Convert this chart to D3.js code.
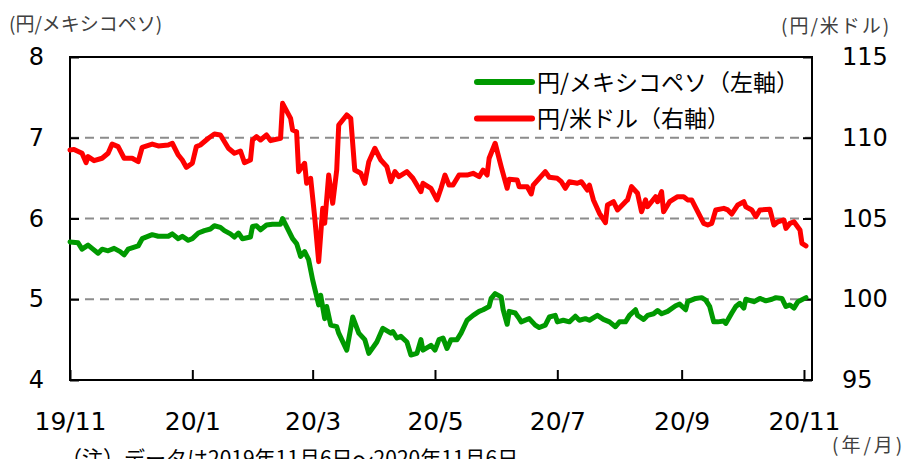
<!DOCTYPE html>
<html lang="ja">
<head>
<meta charset="UTF-8">
<title>円/メキシコペソ・円/米ドル</title>
<style>
  body { margin: 0; background: #fff; }
  svg { display: block; }
  .tick text { font-family: 'DejaVu Sans', sans-serif; fill: #000; }
  .jp { font-family: 'Noto Sans CJK JP', sans-serif; }
</style>
</head>
<body>
<div id="chart"></div>
<script src="https://d3js.org/d3.v7.min.js"></script>
<script>
// 円/米ドル (right axis)
const usdDates = [
  "2019-11-01","2019-11-03","2019-11-07","2019-11-09","2019-11-10","2019-11-13","2019-11-17","2019-11-20","2019-11-22","2019-11-25",
  "2019-11-28","2019-12-02","2019-12-05","2019-12-07","2019-12-12","2019-12-15","2019-12-20","2019-12-22","2019-12-25","2019-12-27",
  "2019-12-29","2020-01-01","2020-01-03","2020-01-05","2020-01-09","2020-01-12","2020-01-15","2020-01-19","2020-01-22","2020-01-25",
  "2020-01-27","2020-01-30","2020-01-31","2020-02-02","2020-02-04","2020-02-07","2020-02-09","2020-02-14","2020-02-15","2020-02-19",
  "2020-02-20","2020-02-22","2020-02-23","2020-02-26","2020-02-27","2020-02-29","2020-03-02","2020-03-04","2020-03-06","2020-03-07",
  "2020-03-09","2020-03-11","2020-03-13","2020-03-14","2020-03-18","2020-03-20","2020-03-22","2020-03-25","2020-03-27","2020-03-29",
  "2020-04-01","2020-04-04","2020-04-07","2020-04-09","2020-04-11","2020-04-13","2020-04-17","2020-04-20","2020-04-24","2020-04-25",
  "2020-04-29","2020-05-02","2020-05-04","2020-05-06","2020-05-08","2020-05-10","2020-05-13","2020-05-17","2020-05-20","2020-05-23",
  "2020-05-25","2020-05-27","2020-05-28","2020-05-31","2020-06-03","2020-06-06","2020-06-07","2020-06-11","2020-06-12","2020-06-16",
  "2020-06-18","2020-06-19","2020-06-22","2020-06-25","2020-06-27","2020-07-01","2020-07-03","2020-07-05","2020-07-07","2020-07-11",
  "2020-07-13","2020-07-16","2020-07-17","2020-07-19","2020-07-22","2020-07-25","2020-07-26","2020-07-29","2020-07-31","2020-08-04",
  "2020-08-05","2020-08-07","2020-08-10","2020-08-12","2020-08-14","2020-08-15","2020-08-19","2020-08-20","2020-08-22","2020-08-23",
  "2020-08-26","2020-08-30","2020-09-02","2020-09-04","2020-09-06","2020-09-09","2020-09-12","2020-09-14","2020-09-16","2020-09-18",
  "2020-09-22","2020-09-24","2020-09-26","2020-09-29","2020-10-02","2020-10-03","2020-10-06","2020-10-08","2020-10-10","2020-10-15",
  "2020-10-17","2020-10-19","2020-10-22","2020-10-23","2020-10-25","2020-10-27","2020-10-30","2020-10-31","2020-11-02"
];
const usdValues = [
  109.24,109.28,109.04,108.46,108.83,108.58,108.73,109.04,109.61,109.45,
  108.73,108.73,108.52,109.41,109.61,109.49,109.55,109.66,108.93,108.62,
  108.17,108.42,109.45,109.55,109.97,110.23,110.17,109.35,109.04,109.18,
  108.46,108.62,109.86,110.07,109.86,110.17,109.82,109.97,112.13,111.20,
  110.48,110.37,107.90,108.42,107.18,107.49,105.11,102.33,105.63,104.70,
  107.69,105.94,108.00,110.79,111.41,111.20,108.00,107.80,107.18,108.52,
  109.35,108.62,108.21,107.28,107.90,107.59,107.90,107.49,106.66,107.18,
  106.87,106.15,106.87,107.69,107.07,107.07,107.69,107.69,107.80,107.59,
  108.00,107.69,108.73,109.66,108.21,106.87,107.43,107.38,106.97,106.97,
  106.52,107.07,107.49,107.90,107.55,107.49,107.28,106.87,107.28,107.18,
  107.28,106.76,107.07,106.15,105.32,104.74,105.84,106.04,105.53,106.04,
  106.15,106.97,106.56,105.42,106.15,105.73,106.35,106.04,106.66,105.42,
  106.04,106.35,106.35,106.15,106.15,105.42,104.70,104.60,104.70,105.53,
  105.63,105.53,105.28,105.84,106.04,105.73,105.53,105.11,105.53,105.57,
  104.60,104.80,104.91,104.39,104.70,104.80,104.29,103.46,103.30
];

// 円/メキシコペソ (left axis)
const mxnDates = [
  "2019-11-01","2019-11-05","2019-11-07","2019-11-10","2019-11-12","2019-11-15","2019-11-17","2019-11-20","2019-11-23","2019-11-26",
  "2019-11-28","2019-11-30","2019-12-05","2019-12-07","2019-12-12","2019-12-15","2019-12-20","2019-12-22","2019-12-25","2019-12-27",
  "2019-12-30","2020-01-01","2020-01-04","2020-01-07","2020-01-10","2020-01-12","2020-01-15","2020-01-17","2020-01-20","2020-01-22",
  "2020-01-24","2020-01-26","2020-01-30","2020-01-31","2020-02-02","2020-02-04","2020-02-07","2020-02-10","2020-02-14","2020-02-15",
  "2020-02-17","2020-02-20","2020-02-22","2020-02-24","2020-02-26","2020-02-28","2020-03-01","2020-03-04","2020-03-05","2020-03-07",
  "2020-03-08","2020-03-10","2020-03-13","2020-03-14","2020-03-18","2020-03-21","2020-03-24","2020-03-27","2020-03-29","2020-04-02",
  "2020-04-05","2020-04-09","2020-04-10","2020-04-12","2020-04-14","2020-04-17","2020-04-19","2020-04-22","2020-04-24","2020-04-25",
  "2020-04-29","2020-05-01","2020-05-03","2020-05-05","2020-05-07","2020-05-09","2020-05-12","2020-05-14","2020-05-17","2020-05-20",
  "2020-05-23","2020-05-25","2020-05-28","2020-05-29","2020-05-31","2020-06-03","2020-06-04","2020-06-06","2020-06-07","2020-06-10",
  "2020-06-12","2020-06-13","2020-06-16","2020-06-17","2020-06-20","2020-06-22","2020-06-25","2020-06-27","2020-06-30","2020-07-01",
  "2020-07-04","2020-07-07","2020-07-10","2020-07-12","2020-07-15","2020-07-17","2020-07-21","2020-07-24","2020-07-27","2020-07-30",
  "2020-08-01","2020-08-04","2020-08-06","2020-08-09","2020-08-10","2020-08-13","2020-08-15","2020-08-18","2020-08-20","2020-08-22",
  "2020-08-25","2020-08-29","2020-08-31","2020-09-03","2020-09-04","2020-09-08","2020-09-11","2020-09-13","2020-09-15","2020-09-17",
  "2020-09-19","2020-09-22","2020-09-23","2020-09-26","2020-09-28","2020-09-30","2020-10-02","2020-10-03","2020-10-07","2020-10-10",
  "2020-10-13","2020-10-16","2020-10-18","2020-10-21","2020-10-23","2020-10-25","2020-10-27","2020-10-29","2020-11-02"
];
const mxnValues = [
  5.71,5.70,5.62,5.67,5.63,5.57,5.62,5.60,5.63,5.59,
  5.55,5.62,5.66,5.75,5.80,5.78,5.78,5.81,5.75,5.78,
  5.73,5.75,5.82,5.85,5.87,5.91,5.89,5.85,5.81,5.77,
  5.82,5.75,5.77,5.90,5.91,5.86,5.92,5.93,5.93,6.00,
  5.90,5.75,5.69,5.53,5.59,5.49,5.24,4.93,5.05,4.76,
  4.91,4.68,4.66,4.58,4.37,4.78,4.58,4.50,4.33,4.47,
  4.64,4.58,4.60,4.52,4.54,4.47,4.31,4.33,4.50,4.37,
  4.43,4.37,4.50,4.52,4.39,4.50,4.50,4.58,4.74,4.80,
  4.85,4.87,4.91,5.01,5.07,5.03,4.87,4.69,4.85,4.83,
  4.76,4.72,4.75,4.76,4.68,4.65,4.68,4.78,4.80,4.72,
  4.74,4.72,4.79,4.74,4.76,4.74,4.80,4.75,4.72,4.66,
  4.72,4.72,4.80,4.87,4.80,4.75,4.80,4.82,4.86,4.82,
  4.85,4.92,4.94,4.87,4.97,5.01,5.02,4.99,4.91,4.72,
  4.72,4.73,4.70,4.83,4.91,4.95,4.89,5.00,4.97,5.01,
  4.98,5.00,5.02,5.01,4.91,4.93,4.89,4.97,5.02
];

const leftTicks = [4, 5, 6, 7, 8];
const rightTicks = [95, 100, 105, 110, 115];
const gridValues = [5, 6, 7];
const xStart = "2019-11-01", xEnd = "2020-11-05";
const legendLabels = ["円/メキシコペソ（左軸）", "円/米ドル（右軸）"];
const colors = ["#009900", "#ff0000"];

const width = 907, height = 459;
const plot = { left: 70, right: 812, top: 57, bottom: 380 };
const parse = d3.timeParse("%Y-%m-%d");

const svg = d3.select("#chart").append("svg")
  .attr("width", width).attr("height", height);

const x = d3.scaleTime()
  .domain([parse(xStart), parse(xEnd)])
  .range([plot.left, plot.right]);
const yL = d3.scaleLinear().domain([4, 8]).range([plot.bottom, plot.top]);
const yR = d3.scaleLinear().domain([95, 115]).range([plot.bottom, plot.top]);

// dashed grid
svg.append("g").selectAll("line")
  .data(gridValues).enter().append("line")
  .attr("x1", plot.left).attr("x2", plot.right)
  .attr("y1", d => yL(d)).attr("y2", d => yL(d))
  .attr("stroke", "#8c8c8c").attr("stroke-width", 2)
  .attr("stroke-dasharray", "9,6");

// axes
const xAxis = svg.append("g")
  .attr("transform", `translate(0,${plot.bottom})`)
  .call(d3.axisBottom(x)
    .ticks(d3.timeMonth.every(2))
    .tickFormat(d3.timeFormat("%y/%-m"))
    .tickSizeInner(-10).tickSizeOuter(0).tickPadding(32));
xAxis.selectAll("text").style("font-size", "25px");

const leftAxis = svg.append("g")
  .attr("transform", `translate(${plot.left},0)`)
  .call(d3.axisLeft(yL).tickValues(leftTicks)
    .tickSizeInner(-9).tickSizeOuter(0).tickPadding(26).tickFormat(d3.format("d")));
leftAxis.selectAll("text").style("font-size", "24px");

const rightAxis = svg.append("g")
  .attr("transform", `translate(${plot.right},0)`)
  .call(d3.axisRight(yR).tickValues(rightTicks)
    .tickSizeInner(-9).tickSizeOuter(0).tickPadding(30).tickFormat(d3.format("d")));
rightAxis.selectAll("text").style("font-size", "24px");

svg.selectAll(".domain").remove();
svg.selectAll(".tick line").attr("stroke", "#000").attr("stroke-width", 2);

// frame
svg.append("rect")
  .attr("x", plot.left).attr("y", plot.top)
  .attr("width", plot.right - plot.left).attr("height", plot.bottom - plot.top)
  .attr("fill", "none").attr("stroke", "#000").attr("stroke-width", 2);

// lines
const mxn = mxnDates.map((d, i) => ({ date: parse(d), value: mxnValues[i] }));
const usd = usdDates.map((d, i) => ({ date: parse(d), value: usdValues[i] }));

svg.append("path").datum(mxn)
  .attr("fill", "none").attr("stroke", colors[0]).attr("stroke-width", 5)
  .attr("stroke-linejoin", "round").attr("stroke-linecap", "round")
  .attr("d", d3.line().x(d => x(d.date)).y(d => yL(d.value)));

svg.append("path").datum(usd)
  .attr("fill", "none").attr("stroke", colors[1]).attr("stroke-width", 5)
  .attr("stroke-linejoin", "round").attr("stroke-linecap", "round")
  .attr("d", d3.line().x(d => x(d.date)).y(d => yR(d.value)));

// legend
const legend = svg.append("g").attr("transform", "translate(477,82)");
legendLabels.forEach((label, i) => {
  const row = legend.append("g").attr("transform", `translate(0,${i * 36.5})`);
  row.append("line").attr("x1", 0).attr("x2", 55)
    .attr("stroke", colors[i]).attr("stroke-width", 6).attr("stroke-linecap", "round");
  row.append("text").attr("class", "jp").attr("x", 60).attr("y", 8.5)
    .style("font-size", "23px").text(label);
});

// titles and note
svg.append("text").attr("class", "jp").attr("x", 9).attr("y", 31)
  .style("font-size", "19px").attr("fill", "#404040").text("(円/メキシコペソ)");
svg.append("text").attr("class", "jp").attr("x", 781).attr("y", 32.5)
  .style("font-size", "19px").style("letter-spacing", "2px")
  .attr("fill", "#404040").text("(円/米ドル)");
svg.append("text").attr("class", "jp").attr("x", 832).attr("y", 452)
  .style("font-size", "19px").style("letter-spacing", "3px")
  .attr("fill", "#404040").text("(年/月)");
svg.append("text").attr("class", "jp").attr("x", 61).attr("y", 466)
  .style("font-size", "21px").attr("fill", "#000").text("（注）データは2019年11月6日～2020年11月6日");
</script>
</body>
</html>
